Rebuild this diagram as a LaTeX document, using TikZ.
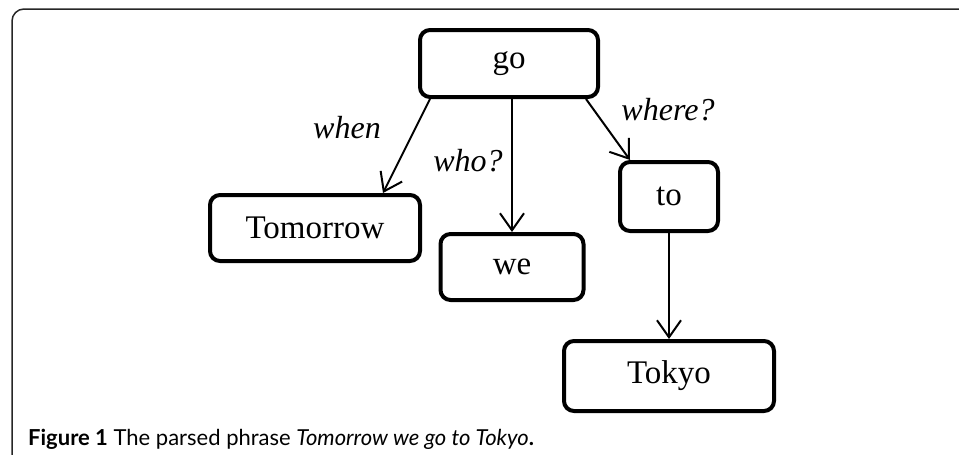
\documentclass[tikz,border=0pt]{standalone}
\usepackage{fontspec}
\setmainfont{Liberation Serif}
\newfontfamily\capfont{Lato}
\usetikzlibrary{arrows.meta,calc}
\begin{document}
\begin{tikzpicture}[x=1pt,y=-1pt,
  wordbox/.style={draw=black,line width=4pt,rounded corners=10pt,inner sep=0pt,
    font=\fontsize{33}{38}\selectfont},
  arr/.style={line width=2pt,-{Straight Barb[length=17pt,width=24pt,line width=2pt]}},
  lbl/.style={font=\fontsize{32}{36}\selectfont\itshape,inner sep=0pt}]
\useasboundingbox (0,0) rectangle (959,455);
\draw[line width=1.5pt,color=black!85,rounded corners=12pt] (12,470) -- (12,9) -- (975,9);
\node[wordbox,minimum width=178pt,minimum height=67pt] (go) at (509,63.5) {go};
\node[wordbox,minimum width=210pt,minimum height=66pt] (tom) at (315,228) {Tomorrow};
\node[wordbox,minimum width=143pt,minimum height=66pt] (we) at (512,267) {we};
\node[wordbox,minimum width=98pt,minimum height=69pt] (to) at (669,196.5) {to};
\node[wordbox,minimum width=210pt,minimum height=70pt] (tokyo) at (669,376) {Tokyo};
\draw[arr] ([xshift=12pt]go.south west) -- ([xshift=-39pt]tom.north east);
\draw[arr] ([xshift=3pt]go.south) -- (we.north);
\draw[arr] ([xshift=-14pt]go.south east) -- ([xshift=12pt]to.north west);
\draw[arr] (to.south) -- (tokyo.north);
\node[lbl] (lwhen) at (347,128) {when};
\node[lbl] (lwho) at (468,161) {who?};
\node[lbl] (lwhere) at (668,110) {where?};
\node[anchor=base west,inner sep=0pt,font=\capfont\fontsize{22}{26}\selectfont] (cap) at (28,445)
  {\textbf{Figure 1} The parsed phrase \textit{Tomorrow we go to Tokyo}\textbf{.}};
\end{tikzpicture}
\end{document}
